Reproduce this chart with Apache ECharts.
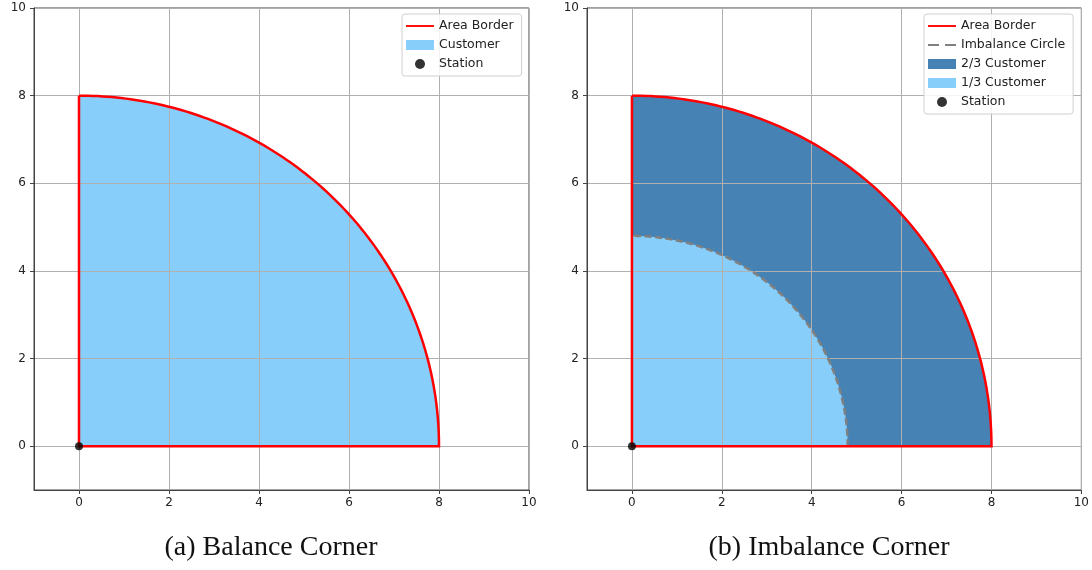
<!DOCTYPE html>
<html>
<head>
<meta charset="utf-8">
<script src="https://cdn.jsdelivr.net/npm/echarts@6/dist/echarts.min.js"></script>
<style>
html,body{margin:0;padding:0;background:#fff;}
#c{width:1092px;height:570px;}
</style>
</head>
<body>
<div id="c"></div>
<script>
// ---- data ----
const tickValues = [0, 2, 4, 6, 8, 10];
const axisRange = [-1, 10];
const areaRadius = [8];          // area border / customer quarter circle radius
const imbalanceRadius = [4.8];   // imbalance circle radius (panel b)
const stationPos = [[0, 0]];
const captions = ['(a) Balance Corner', '(b) Imbalance Corner'];

const RED = '#ff0000', LIGHT = '#87cefa', STEEL = '#4682b4', GRAY = '#808080';
const SEG = 120;

function arcPoints(api, r, a0, a1) {
  const pts = [];
  for (let i = 0; i <= SEG; i++) {
    const a = a0 + (a1 - a0) * i / SEG;
    pts.push(api.coord([r * Math.cos(a), r * Math.sin(a)]));
  }
  return pts;
}

function sectorItem(color) {
  return function (params, api) {
    const r = api.value(0);
    const pts = [api.coord([0, 0])].concat(arcPoints(api, r, 0, Math.PI / 2));
    return { type: 'polygon', shape: { points: pts }, style: { fill: color, stroke: null } };
  };
}
function borderItem(params, api) {
  const r = api.value(0);
  const pts = [api.coord([0, r]), api.coord([0, 0])].concat(arcPoints(api, r, 0, Math.PI / 2));
  return { type: 'polyline', shape: { points: pts }, style: { fill: null, stroke: RED, lineWidth: 2.5, lineJoin: 'miter' } };
}
function dashedArcItem(params, api) {
  const r = api.value(0);
  return { type: 'polyline', shape: { points: arcPoints(api, r, 0, Math.PI / 2) },
    style: { fill: null, stroke: GRAY, lineWidth: 2.5, lineDash: [7, 3.5] } };
}

function mkAxis(idx, vertical) {
  return {
    type: 'value', gridIndex: idx, min: axisRange[0], max: axisRange[1], z: 2,
    axisLine: { show: true, onZero: false, lineStyle: { color: '#444', width: 1 } },
    axisTick: { show: true, length: 4, customValues: tickValues, lineStyle: { color: '#444' } },
    axisLabel: { show: true, customValues: tickValues, color: '#222', fontSize: 12,
      fontFamily: 'DejaVu Sans', margin: vertical ? 8 : 7 },
    splitLine: { show: true, lineStyle: { color: '#b0b0b0', width: 1 } }
  };
}

const lineIcon = 'path://M0,0h30v2h-30z';
const dashIcon = 'path://M0,0h11v2h-11z M17,0h11v2h-11z';

function legendBase(idx, left, top, names) {
  return {
    orient: 'vertical', left: left, top: top, z: 6,
    data: names,
    itemWidth: 28, itemHeight: 10, itemGap: 5,
    backgroundColor: 'rgba(255,255,255,0.85)', borderColor: '#d0d0d0', borderWidth: 1, borderRadius: 3,
    padding: [5, 8, 5, 4],
    textStyle: { fontFamily: 'DejaVu Sans', fontSize: 12.5, color: '#222', lineHeight: 14 },
    selectedMode: false
  };
}

const option = {
  animation: false,
  backgroundColor: '#fff',
  grid: [
    { left: 34, top: 8, width: 495, height: 482, show: true, borderColor: '#444', borderWidth: 1, backgroundColor: 'transparent' },
    { left: 587, top: 8, width: 495, height: 482, show: true, borderColor: '#444', borderWidth: 1, backgroundColor: 'transparent' }
  ],
  xAxis: [mkAxis(0, false), mkAxis(1, false)],
  yAxis: [mkAxis(0, true), mkAxis(1, true)],
  legend: [
    legendBase(0, 402, 14, [
      { name: 'Area Border', icon: lineIcon },
      { name: 'Customer', icon: 'rect' },
      { name: 'Station', icon: 'circle' }
    ]),
    legendBase(1, 924, 14, [
      { name: 'Area Border ', icon: lineIcon },
      { name: 'Imbalance Circle', icon: dashIcon },
      { name: '2/3 Customer', icon: 'rect' },
      { name: '1/3 Customer', icon: 'rect' },
      { name: 'Station ', icon: 'circle' }
    ])
  ],
  graphic: [
    { type: 'text', x: 271, y: 534, style: { text: captions[0], font: '28px "Liberation Serif"', fill: '#111', textAlign: 'center' } },
    { type: 'text', x: 829, y: 534, style: { text: captions[1], font: '28px "Liberation Serif"', fill: '#111', textAlign: 'center' } }
  ],
  series: [
    // panel a
    { name: 'Customer', type: 'custom', xAxisIndex: 0, yAxisIndex: 0, z: 1,
      itemStyle: { color: LIGHT }, renderItem: sectorItem(LIGHT), data: areaRadius.map(r => [r, 0]) },
    { name: 'Area Border', type: 'custom', xAxisIndex: 0, yAxisIndex: 0, z: 4,
      itemStyle: { color: RED }, renderItem: borderItem, data: areaRadius.map(r => [r, 0]) },
    { name: 'Station', type: 'scatter', xAxisIndex: 0, yAxisIndex: 0, z: 5, symbolSize: 8,
      itemStyle: { color: '#000' }, data: stationPos },
    // panel b
    { name: '2/3 Customer', type: 'custom', xAxisIndex: 1, yAxisIndex: 1, z: 1,
      itemStyle: { color: STEEL }, renderItem: sectorItem(STEEL), data: areaRadius.map(r => [r, 0]) },
    { name: '1/3 Customer', type: 'custom', xAxisIndex: 1, yAxisIndex: 1, z: 1,
      itemStyle: { color: LIGHT }, renderItem: sectorItem(LIGHT), data: imbalanceRadius.map(r => [r, 0]) },
    { name: 'Imbalance Circle', type: 'custom', xAxisIndex: 1, yAxisIndex: 1, z: 3,
      itemStyle: { color: GRAY }, renderItem: dashedArcItem, data: imbalanceRadius.map(r => [r, 0]) },
    { name: 'Area Border ', type: 'custom', xAxisIndex: 1, yAxisIndex: 1, z: 4,
      itemStyle: { color: RED }, renderItem: borderItem, data: areaRadius.map(r => [r, 0]) },
    { name: 'Station ', type: 'scatter', xAxisIndex: 1, yAxisIndex: 1, z: 5, symbolSize: 8,
      itemStyle: { color: '#000' }, data: stationPos }
  ]
};

const chart = echarts.init(document.getElementById('c'), null, { renderer: 'canvas' });
chart.setOption(option);
</script>
</body>
</html>
